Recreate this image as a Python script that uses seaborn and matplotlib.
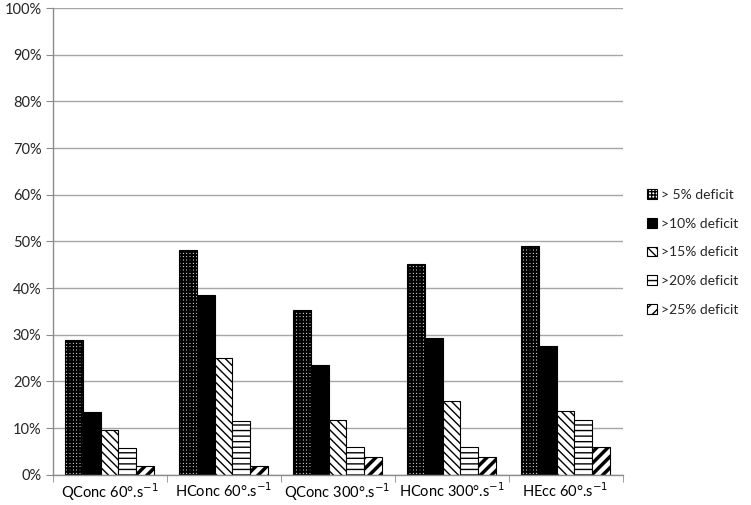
import numpy as np
import pandas as pd
import matplotlib
matplotlib.use("Agg")
import matplotlib.pyplot as plt
import seaborn as sns
from matplotlib.ticker import PercentFormatter, FixedLocator
from matplotlib.patches import Patch

# ── Data ──────────────────────────────────────────────────────────────────────
categories = ["QConc 60°.s$^{-1}$", "HConc 60°.s$^{-1}$", "QConc 300°.s$^{-1}$",
              "HConc 300°.s$^{-1}$", "HEcc 60°.s$^{-1}$"]
series = ["> 5% deficit", ">10% deficit", ">15% deficit", ">20% deficit", ">25% deficit"]
deficit_5 = [28.9, 48.1, 35.3, 45.1, 49.0]
deficit_10 = [13.5, 38.5, 23.5, 29.4, 27.5]
deficit_15 = [9.6, 25.0, 11.8, 15.7, 13.7]
deficit_20 = [5.8, 11.5, 5.9, 5.9, 11.8]
deficit_25 = [1.9, 1.9, 3.9, 3.9, 5.9]

values = [deficit_5, deficit_10, deficit_15, deficit_20, deficit_25]
df = pd.DataFrame({
    "test": np.tile(categories, len(series)),
    "level": np.repeat(series, len(categories)),
    "pct": np.concatenate(values),
})

# ── Style ─────────────────────────────────────────────────────────────────────
sns.set_style("white")
plt.rcParams["font.family"] = ["Lato", "DejaVu Sans"]
plt.rcParams["hatch.linewidth"] = 1.0

fig = plt.figure(figsize=(7.51, 5.05), dpi=100)
ax = fig.add_axes([0.07, 0.06, 0.759, 0.924])

sns.barplot(data=df, x="test", y="pct", hue="level", order=categories,
            hue_order=series, width=0.78, color="white", saturation=1,
            edgecolor="black", linewidth=0.8, ax=ax, legend=False)

hatches = ["+++++", "", "\\\\\\\\", "---", "///"]
faces = ["white", "black", "white", "white", "white"]
hatch_lw = [1.6, 1.0, 1.0, 1.0, 2.5]


def style_patch(p, h, fc, lw):
    p.set_facecolor(fc)
    p.set_hatch(h)
    p.set_edgecolor("black")
    if hasattr(p, "set_hatch_linewidth"):
        p.set_hatch_linewidth(lw)


for cont, h, fc, lw in zip(ax.containers, hatches, faces, hatch_lw):
    for bar in cont:
        style_patch(bar, h, fc, lw)

# ── Axes ──────────────────────────────────────────────────────────────────────
ax.set_ylim(0, 100)
ax.set_xlim(-0.5, len(categories) - 0.5)
ax.yaxis.set_major_locator(FixedLocator(np.arange(0, 101, 10)))
ax.yaxis.set_major_formatter(PercentFormatter(decimals=0))
ax.yaxis.grid(True, color="#a6a6a6", linewidth=1)
ax.set_axisbelow(True)
ax.set_xlabel("")
ax.set_ylabel("")

for s in ["top", "right"]:
    ax.spines[s].set_visible(False)
for s in ["left", "bottom"]:
    ax.spines[s].set_color("#8c8c8c")
    ax.spines[s].set_linewidth(1)

ax.tick_params(axis="x", length=0, labelsize=10.5, pad=5, colors="black")
ax.tick_params(axis="y", left=True, length=5, color="#8c8c8c", labelsize=10.5, pad=3)
ax.set_xticks(np.arange(-0.5, len(categories)), minor=True)
ax.tick_params(axis="x", which="minor", bottom=True, length=5, color="#8c8c8c")

# ── Legend ────────────────────────────────────────────────────────────────────
handles = []
for h, fc, lw in zip(hatches, faces, hatch_lw):
    p = Patch(linewidth=0.8)
    style_patch(p, h, fc, lw)
    handles.append(p)
fig.legend(handles, series, loc="center left", bbox_to_anchor=(0.862, 0.5),
           frameon=False, fontsize=10, handlelength=0.7, handleheight=0.7,
           handletextpad=0.3, labelspacing=1.2, borderaxespad=0, borderpad=0)

fig.savefig("out.png", dpi=100)
